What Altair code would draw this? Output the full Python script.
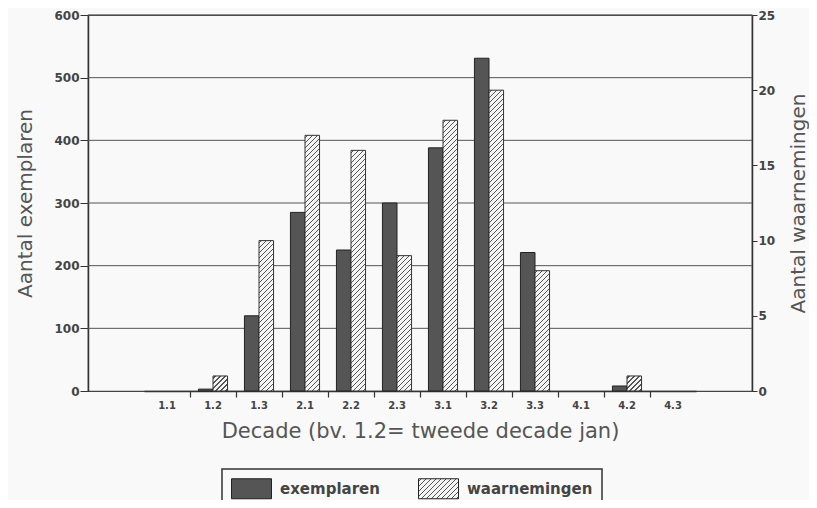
import json
import altair as alt

decades = ["1.1", "1.2", "1.3", "2.1", "2.2", "2.3", "3.1", "3.2", "3.3", "4.1", "4.2", "4.3"]
exemplaren = [0, 3, 120, 285, 225, 300, 388, 531, 221, 0, 8, 0]
waarnemingen = [0, 1, 10, 17, 16, 9, 18, 20, 8, 0, 1, 0]
series = ["exemplaren", "waarnemingen"]
left_ticks = [0, 100, 200, 300, 400, 500, 600]
right_ticks = [0, 5, 10, 15, 20, 25]

FONT = "DejaVu Sans"
W, H = 664, 376
BG = "#f9f9f9"
X_RANGE = [56, 608]
OFF_PAD = 0.58
RIGHT_MAX = 25
BAR_W = (X_RANGE[1] - X_RANGE[0]) / len(decades) / (2 + 2 * OFF_PAD)


def hatch_box(w, h):
    """Diagonal hatch (like the printed pattern) as a linear gradient laid out
    in a w x h bounding box."""
    if h <= 0:
        return None
    s = w + h
    k = s / (w * w + h * h)
    period, lw = 5.0, 1.3
    light, dark = "#f4f4f4", "#555555"
    stops = [{"offset": 0, "color": light}]
    pos = 2.0
    while pos + lw < s:
        a, b = pos / s, (pos + lw) / s
        stops += [
            {"offset": a, "color": light},
            {"offset": a, "color": dark},
            {"offset": b, "color": dark},
            {"offset": b, "color": light},
        ]
        pos += period
    stops.append({"offset": 1, "color": light})
    return {"gradient": "linear", "x1": 0, "y1": 0, "x2": w * k, "y2": h * k, "stops": stops}


def hatch(value):
    return hatch_box(BAR_W, value * H / RIGHT_MAX)


rows = []
for d, e, w in zip(decades, exemplaren, waarnemingen):
    rows.append({"decade": d, "reeks": series[0], "waarde": e})
    rows.append({"decade": d, "reeks": series[1], "waarde": w, "arcering": hatch(w)})
grid_rows = [{"waarde": t} for t in left_ticks[1:]]

legend_hatch = alt.ExprRef(json.dumps(hatch_box(40, 20)))

x = alt.X(
    "decade:N",
    sort=decades,
    scale=alt.Scale(domain=decades, paddingInner=0, paddingOuter=0, range=X_RANGE),
    axis=alt.Axis(
        title="Decade (bv. 1.2= tweede decade jan)",
        bandPosition=0,
        labelAngle=0,
        tickSize=6,
        tickColor="#333",
        tickWidth=1.2,
        tickOpacity={"condition": {"test": "datum.value === '1.1'", "value": 0}, "value": 1},
        labelFont=FONT,
        labelFontSize=10,
        labelFontWeight="bold",
        labelColor="#444",
        labelPadding=3,
        domainColor="#333",
        domainWidth=1.5,
        titleFont=FONT,
        titleFontSize=21,
        titleFontWeight="normal",
        titleColor="#555",
        titleY=46,
        titleBaseline="alphabetic",
        grid=False,
    ),
)
xo = alt.XOffset("reeks:N", scale=alt.Scale(domain=series, paddingInner=0, paddingOuter=OFF_PAD))
color = alt.Color(
    "reeks:N",
    scale=alt.Scale(domain=series, range=["#555555", legend_hatch]),
    legend=alt.Legend(
        title=None,
        orient="none",
        legendX=134,
        legendY=454,
        direction="horizontal",
        columns=2,
        symbolType="M-2,-1H2V1H-2Z",
        symbolSize=400,
        symbolOffset=10,
        symbolStrokeColor="#222",
        symbolStrokeWidth=1,
        labelFont=FONT,
        labelFontSize=15,
        labelFontWeight="bold",
        labelColor="#444",
        labelOffset=18,
        columnPadding=36,
        padding=9,
        strokeColor="#333",
        fillColor=BG,
    ),
)

left_axis = alt.Axis(
    title="Aantal exemplaren",
    orient="left",
    values=left_ticks,
    grid=False,
    tickSize=8,
    tickColor="#333",
    labelFont=FONT,
    labelFontSize=12,
    labelFontWeight="bold",
    labelColor="#444",
    labelPadding=1,
    domainColor="#333",
    domainWidth=1.5,
    titleFont=FONT,
    titleFontSize=20,
    titleFontWeight="normal",
    titleColor="#555",
    titleAngle=270,
    titleX=-63,
    titleY=H / 2,
    titleAlign="center",
    titleBaseline="middle",
)
y_left = alt.Y("waarde:Q", scale=alt.Scale(domain=[0, 600], nice=False), axis=left_axis)

right_axis = alt.Axis(
    title="Aantal waarnemingen",
    orient="right",
    values=right_ticks,
    grid=False,
    tickSize=5,
    tickColor="#333",
    labelFont=FONT,
    labelFontSize=12,
    labelFontWeight="bold",
    labelColor="#444",
    labelPadding=1,
    domainColor="#333",
    domainWidth=1.5,
    titleFont=FONT,
    titleFontSize=20,
    titleFontWeight="normal",
    titleColor="#555",
    titleAngle=270,
    titleX=46,
    titleY=H / 2,
    titleAlign="center",
    titleBaseline="middle",
)
y_right = alt.Y("waarde:Q", scale=alt.Scale(domain=[0, RIGHT_MAX], nice=False), axis=right_axis)

grid = alt.Chart(alt.Data(values=grid_rows)).mark_rule(color="#555555", strokeWidth=1).encode(y=y_left)

base = alt.Chart(alt.Data(values=rows)).transform_filter(alt.datum.waarde > 0).encode(
    x=x, xOffset=xo, color=color
)

bars1 = base.transform_filter(alt.datum.reeks == "exemplaren").mark_bar(
    stroke="#222", strokeWidth=1
).encode(y=y_left)

bars2 = base.transform_filter(alt.datum.reeks == "waarnemingen").mark_bar(
    stroke="#333", strokeWidth=1
).encode(y=y_right, fill=alt.Fill("arcering:N", scale=None, legend=None))

chart = (
    alt.layer(alt.layer(grid, bars1), bars2)
    .resolve_scale(y="independent")
    .properties(
        width=W,
        height=H,
        autosize=alt.AutoSizeParams(type="none"),
        padding={"left": 80, "top": 7, "right": 57, "bottom": 109},
        background=BG,
    )
    .configure_view(stroke="#444", strokeWidth=1.2)
    .configure_legend(strokeWidth=1.5)
)

chart.save("out.html", embed_options={"renderer": "svg", "actions": False})
